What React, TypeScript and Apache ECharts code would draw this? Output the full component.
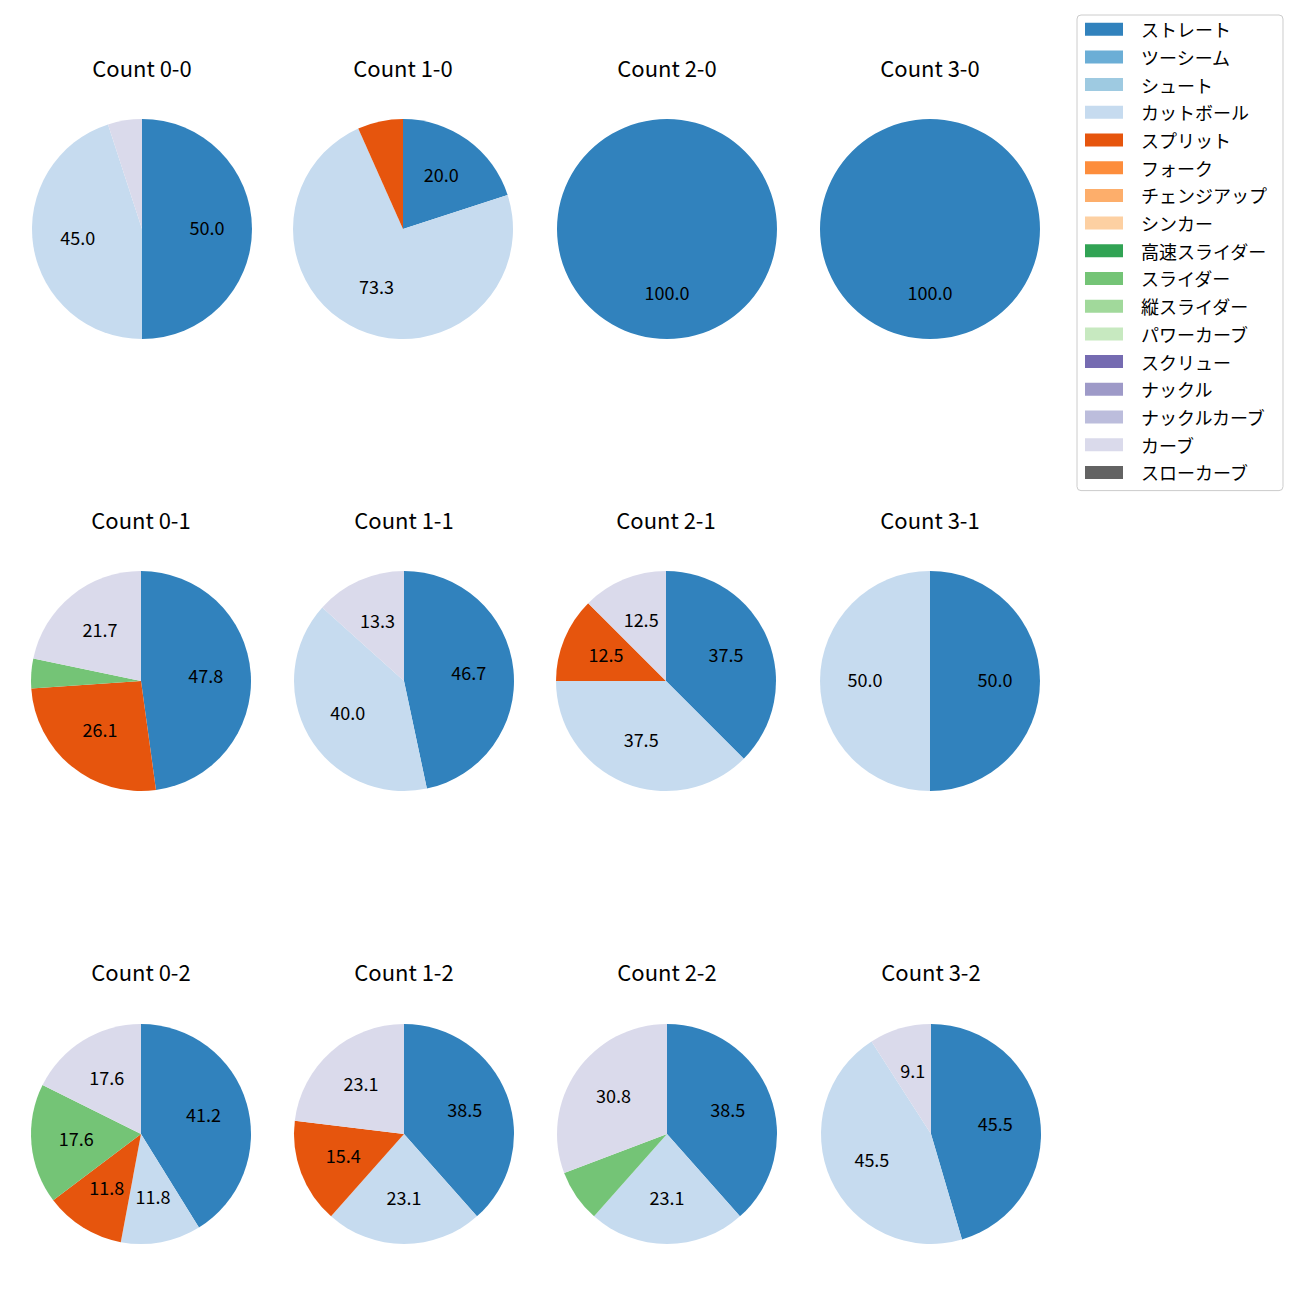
import React, { useEffect, useRef } from 'react';
import * as echarts from 'echarts';

const pitchTypes = [
  'ストレート', 'ツーシーム', 'シュート', 'カットボール', 'スプリット', 'フォーク',
  'チェンジアップ', 'シンカー', '高速スライダー', 'スライダー', '縦スライダー',
  'パワーカーブ', 'スクリュー', 'ナックル', 'ナックルカーブ', 'カーブ', 'スローカーブ',
];
const pitchColors = [
  '#3182bd', '#6baed6', '#9ecae1', '#c6dbef', '#e6550d', '#fd8d3c',
  '#fdae6b', '#fdd0a2', '#31a354', '#74c476', '#a1d99b',
  '#c7e9c0', '#756bb1', '#9e9ac8', '#bcbddc', '#dadaeb', '#636363',
];

const countTitles = [
  'Count 0-0', 'Count 1-0', 'Count 2-0', 'Count 3-0',
  'Count 0-1', 'Count 1-1', 'Count 2-1', 'Count 3-1',
  'Count 0-2', 'Count 1-2', 'Count 2-2', 'Count 3-2',
];

// pitch counts per panel (same order as countTitles)
const straightCounts = [10, 3, 1, 1, 11, 7, 3, 1, 7, 5, 5, 5];
const cutterCounts = [9, 11, 0, 0, 0, 6, 3, 1, 2, 3, 3, 5];
const splitCounts = [0, 1, 0, 0, 6, 0, 1, 0, 2, 2, 0, 0];
const sliderCounts = [0, 0, 0, 0, 1, 0, 0, 0, 3, 0, 1, 0];
const curveCounts = [1, 0, 0, 0, 5, 2, 1, 0, 3, 3, 4, 1];

const seriesByType: [string, number[]][] = [
  ['ストレート', straightCounts],
  ['カットボール', cutterCounts],
  ['スプリット', splitCounts],
  ['スライダー', sliderCounts],
  ['カーブ', curveCounts],
];

const colX = [[142, 403, 667, 930], [141, 404, 666, 930], [141, 404, 667, 931]];
const rowY = [229, 681, 1134];
const titleY = [67, 519, 971];
const FONT = '"Noto Sans CJK JP", "Noto Sans", sans-serif';

export default function App() {
  const ref = useRef<HTMLDivElement>(null);
  useEffect(() => {
    if (!ref.current) return;
    const chart = echarts.init(ref.current, undefined, { renderer: 'svg' });
    const colorOf = (n: string) => pitchColors[pitchTypes.indexOf(n)];
    const series: any[] = [];
    // legend provider
    series.push({
      type: 'pie',
      radius: 0,
      center: [-500, -500],
      silent: true,
      label: { show: false },
      labelLine: { show: false },
      data: pitchTypes.map((n, i) => ({ name: n, value: 1, itemStyle: { color: pitchColors[i] } })),
    });
    const graphics: any[] = [];
    countTitles.forEach((title, k) => {
      const r = Math.floor(k / 4);
      const c = k % 4;
      const cx = colX[r][c];
      const cy = rowY[r];
      const data = seriesByType
        .filter(([, arr]) => arr[k] > 0)
        .map(([n, arr]) => ({ name: n, value: arr[k] }));
      const total = data.reduce((s, d) => s + d.value, 0);
      series.push({
        type: 'pie',
        center: [cx, cy],
        radius: 110,
        startAngle: 90,
        clockwise: true,
        silent: true,
        avoidLabelOverlap: false,
        label: { show: false },
        labelLine: { show: false },
        emphasis: { disabled: true },
        data: data.map((d) => ({ ...d, itemStyle: { color: colorOf(d.name) } })),
      });
      series.push({
        type: 'pie',
        center: [cx, cy - 2],
        radius: 124,
        startAngle: 90,
        clockwise: true,
        silent: true,
        z: 5,
        avoidLabelOverlap: false,
        itemStyle: { color: 'rgba(0,0,0,0)', borderWidth: 0 },
        labelLine: { show: false },
        emphasis: { disabled: true },
        label: {
          show: true,
          position: 'inside',
          rotate: 0,
          color: '#000',
          fontSize: 18,
          fontFamily: FONT,
          formatter: (p: any) => {
            const pct = (p.value / total) * 100;
            return pct >= 8 ? pct.toFixed(1) : '';
          },
        },
        data: data.map((d) => ({ ...d })),
      });
      graphics.push({
        type: 'text',
        x: cx,
        y: titleY[r],
        style: {
          text: title,
          textAlign: 'center',
          textVerticalAlign: 'middle',
          fontSize: 22,
          fontFamily: FONT,
          fill: '#000',
        },
      });
    });
    chart.setOption({
      animation: false,
      backgroundColor: '#fff',
      legend: {
        orient: 'vertical',
        left: 1077,
        top: 15,
        data: pitchTypes,
        icon: 'rect',
        itemWidth: 38,
        itemHeight: 13,
        itemGap: 9.7,
        padding: [5.2, 16, 9.2, 8],
        backgroundColor: '#fff',
        borderColor: '#cccccc',
        borderWidth: 1,
        borderRadius: 4,
        selectedMode: false,
        textStyle: {
          fontSize: 18,
          fontFamily: FONT,
          color: '#000',
          lineHeight: 13,
          padding: [0, 0, 0, 13],
        },
      },
      series,
      graphic: graphics,
    });
    return () => chart.dispose();
  }, []);
  return (
    <div
      ref={ref}
      style={{ position: 'absolute', left: 0, top: 0, width: 1300, height: 1300 }}
    />
  );
}
